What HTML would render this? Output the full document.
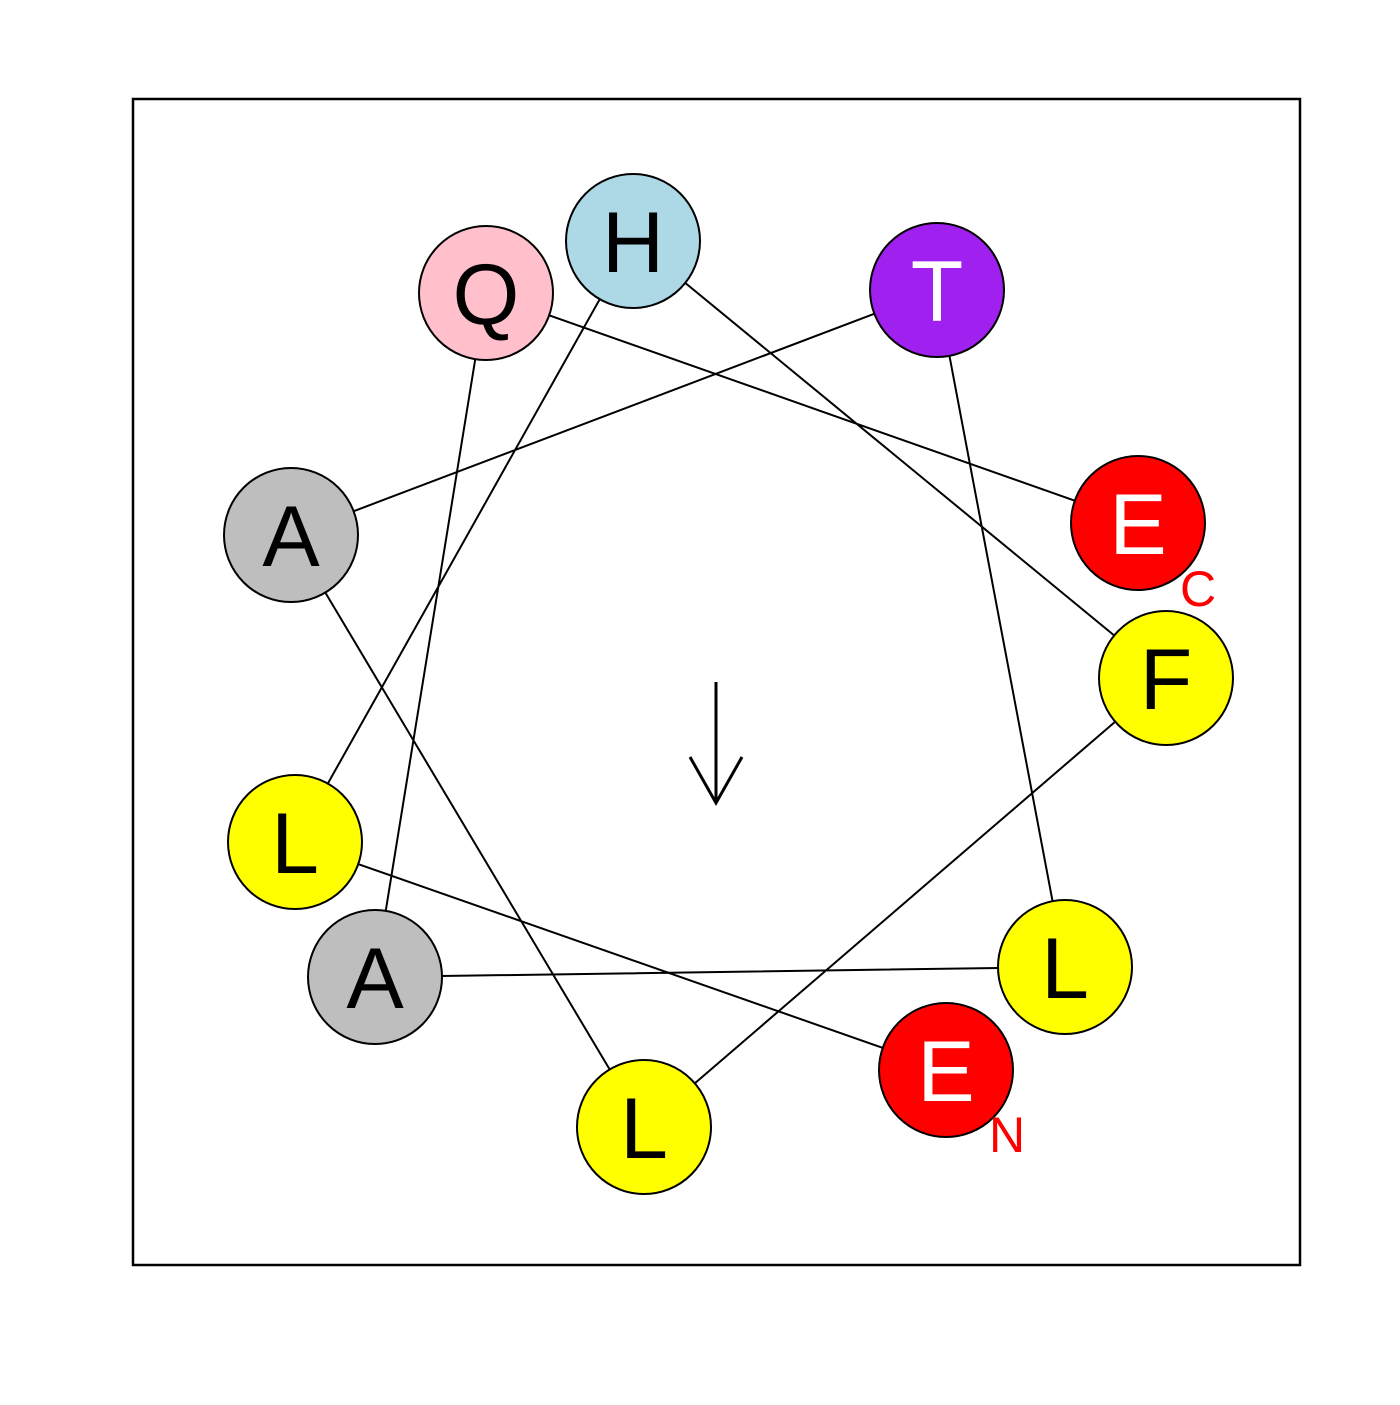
<!DOCTYPE html>
<html><head><style>html,body{margin:0;padding:0;background:#fff}</style></head><body>
<svg width="1400" height="1400" xmlns="http://www.w3.org/2000/svg" font-family="Liberation Sans, sans-serif">
<rect x="133" y="99" width="1167" height="1166" fill="none" stroke="#000" stroke-width="2.5"/>
<g stroke="#000" stroke-width="2" fill="none">
<polyline points="946,1070 295,842 633,240 1166,678 644,1127 291,535 937,290 1065,967 375,977 486,293 1138,523"/>
</g>
<g stroke="#000" stroke-width="3" fill="none">
<line x1="716" y1="682" x2="716" y2="803"/>
<polyline points="690,757 716,803 742,757"/>
</g>
<g stroke="#000" stroke-width="2">
<circle cx="633" cy="241" r="67" fill="#add8e6"/>
<circle cx="486" cy="293" r="67" fill="#ffc0cb"/>
<circle cx="937" cy="290" r="67" fill="#a020f0"/>
<circle cx="291" cy="535" r="67" fill="#bebebe"/>
<circle cx="1138" cy="523" r="67" fill="#ff0000"/>
<circle cx="1166" cy="678" r="67" fill="#ffff00"/>
<circle cx="295" cy="842" r="67" fill="#ffff00"/>
<circle cx="375" cy="977" r="67" fill="#bebebe"/>
<circle cx="1065" cy="967" r="67" fill="#ffff00"/>
<circle cx="946" cy="1070" r="67" fill="#ff0000"/>
<circle cx="644" cy="1127" r="67" fill="#ffff00"/>
</g>
<g font-size="86" text-anchor="middle">
<text x="633" y="272">H</text>
<text x="486" y="324">Q</text>
<text x="937" y="321" fill="#fff">T</text>
<text x="291" y="566">A</text>
<text x="1138" y="554" fill="#fff">E</text>
<text x="1166" y="709">F</text>
<text x="295" y="873">L</text>
<text x="375" y="1008">A</text>
<text x="1065" y="998">L</text>
<text x="946" y="1101" fill="#fff">E</text>
<text x="644" y="1158">L</text>
</g>
<g font-size="50" fill="#ff0000" text-anchor="middle">
<text x="1198" y="606">C</text>
<text x="1007" y="1152">N</text>
</g>
</svg>
</body></html>
